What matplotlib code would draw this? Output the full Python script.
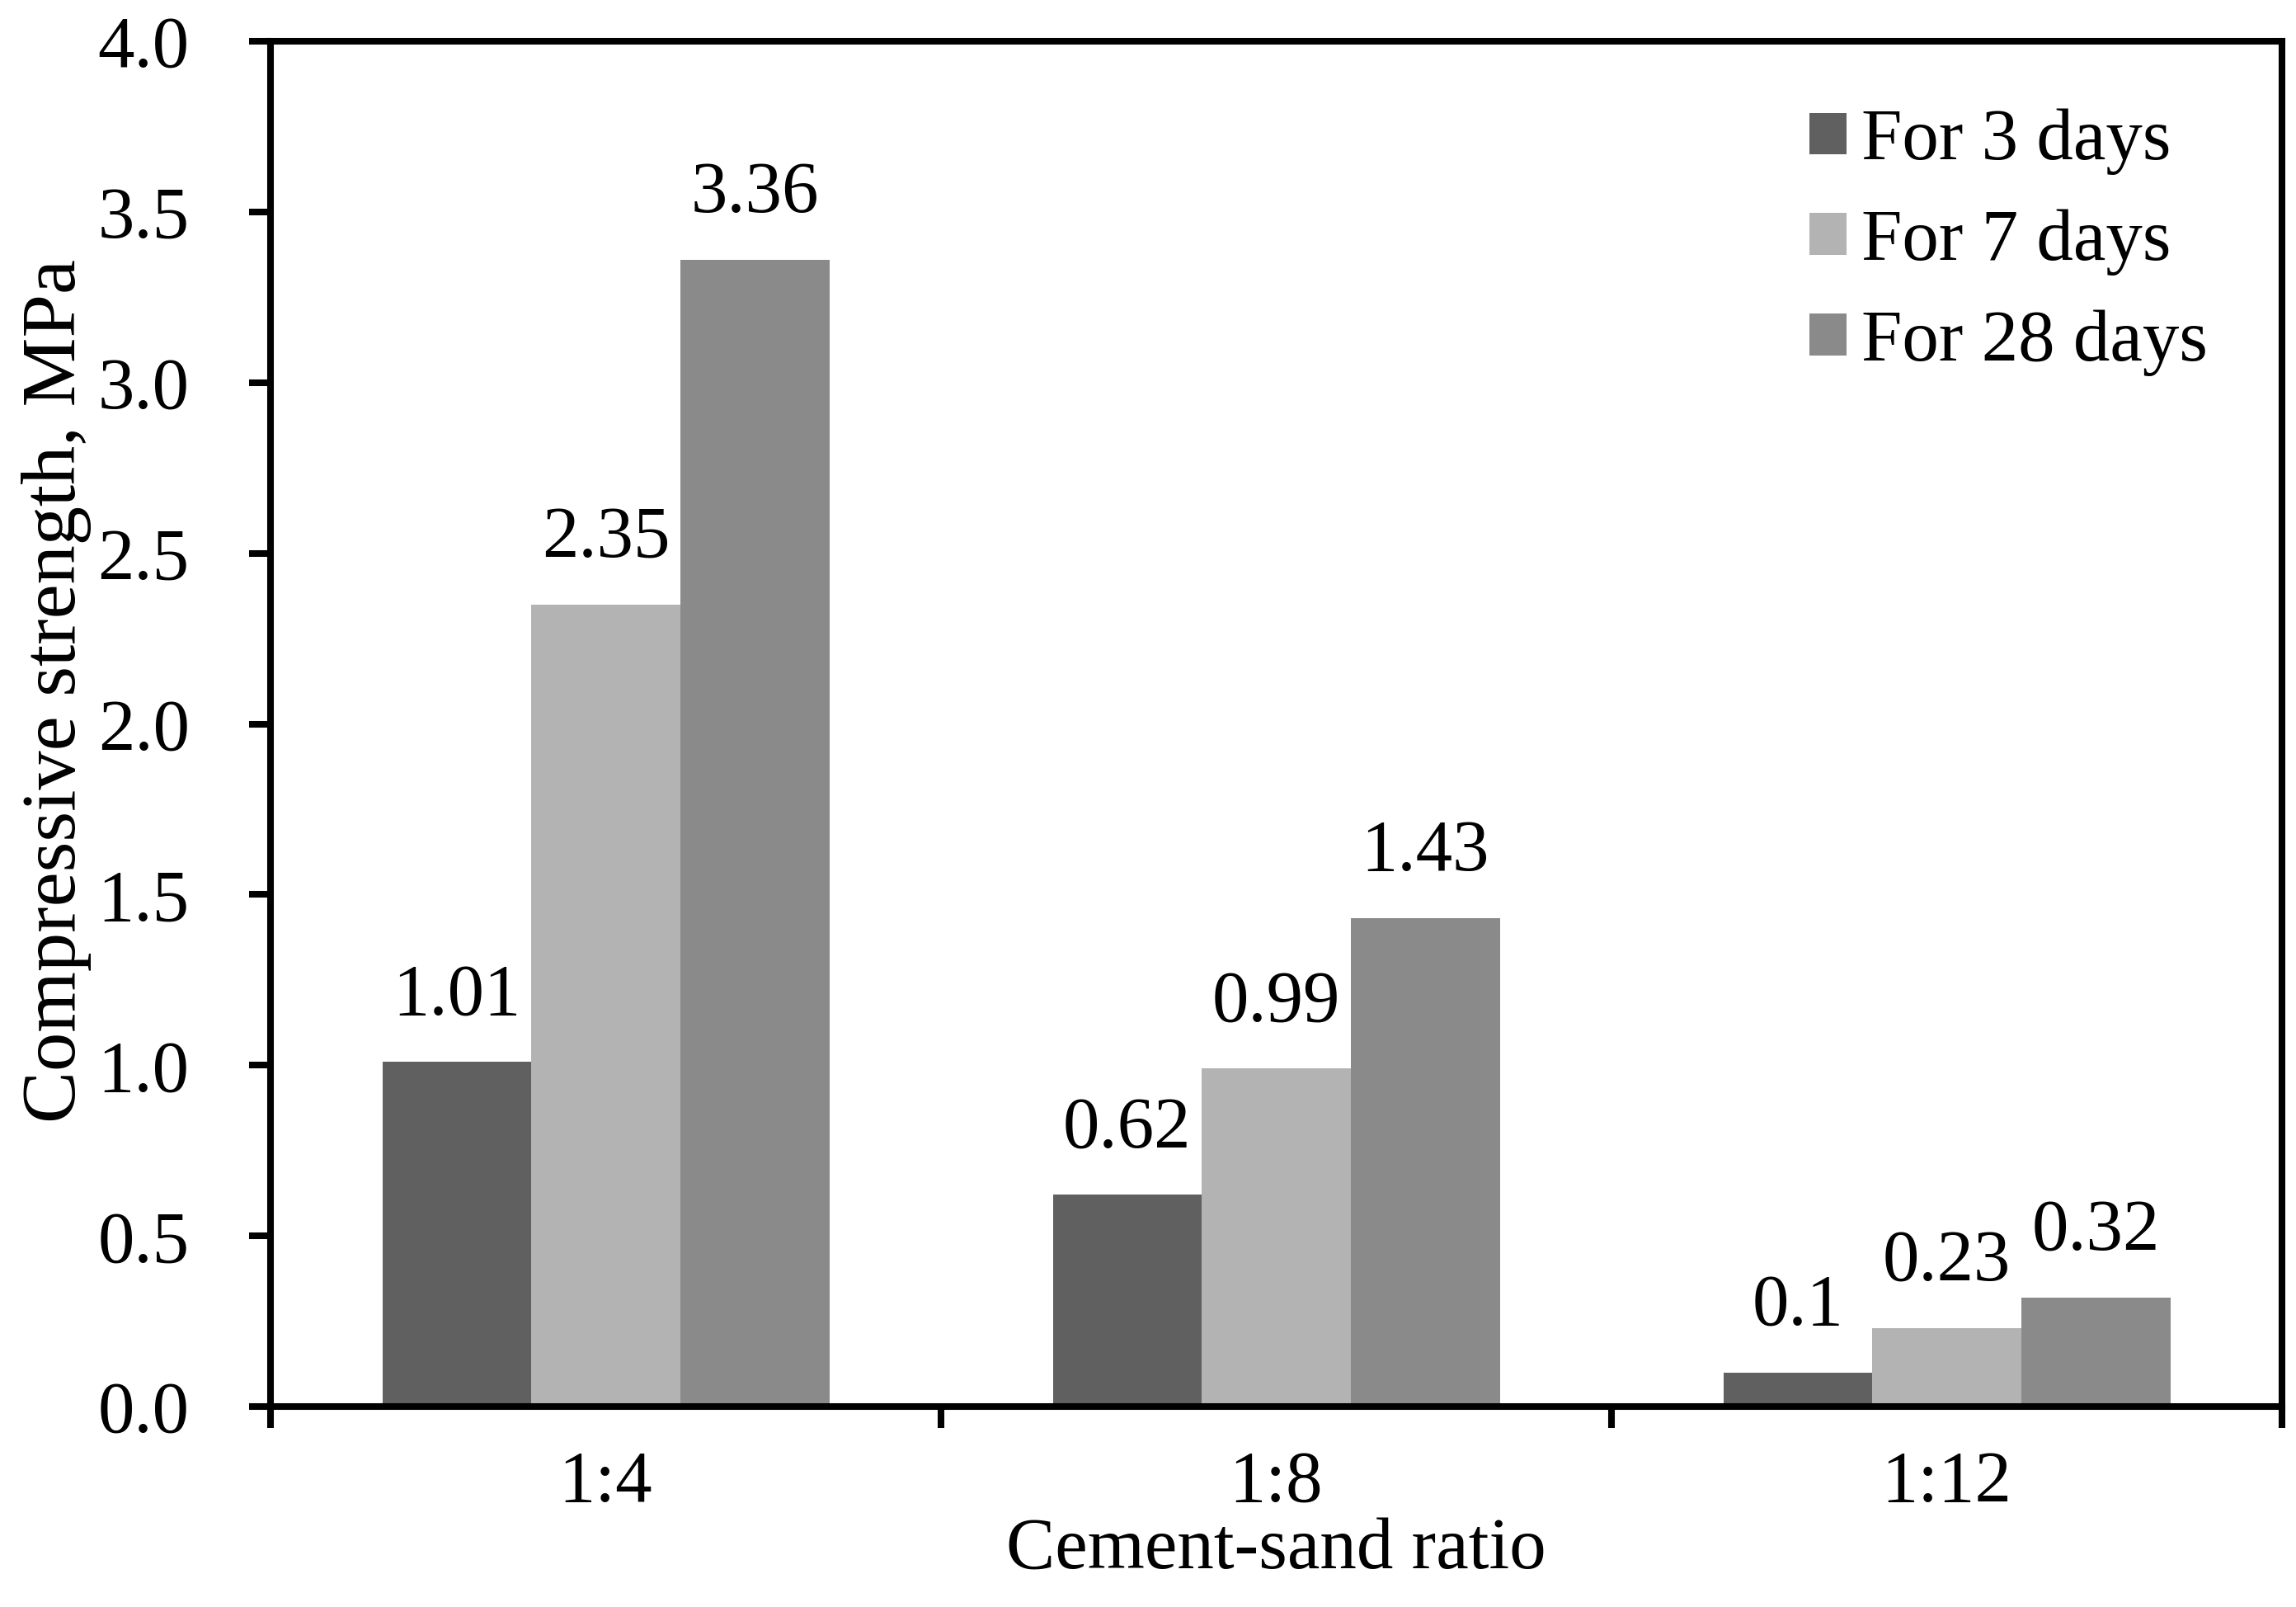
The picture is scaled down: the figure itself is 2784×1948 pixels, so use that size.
import matplotlib
matplotlib.use("Agg")
import matplotlib.pyplot as plt
import numpy as np
from matplotlib.ticker import FixedLocator, NullFormatter, FormatStrFormatter

categories = ["1:4", "1:8", "1:12"]
series_names = ["For 3 days", "For 7 days", "For 28 days"]
days3 = [1.01, 0.62, 0.10]
days7 = [2.35, 0.99, 0.23]
days28 = [3.36, 1.43, 0.32]
label3 = ["1.01", "0.62", "0.1"]
label7 = ["2.35", "0.99", "0.23"]
label28 = ["3.36", "1.43", "0.32"]
colors = ["#606060", "#b3b3b3", "#8a8a8a"]

plt.rcParams['font.family'] = ['Liberation Serif', 'DejaVu Serif']
FS = 32

fig = plt.figure(figsize=(13.92, 9.74), dpi=200)
ax = fig.add_axes([328/2784, 1-1705/1948, (2767-328)/2784, (1705-50)/1948])

x = np.arange(len(categories))
w = 2/9
all_vals = [days3, days7, days28]
all_labels = [label3, label7, label28]
for i, (vals, labs) in enumerate(zip(all_vals, all_labels)):
    bars = ax.bar(x + (i-1)*w, vals, width=w, color=colors[i], label=series_names[i], linewidth=0)
    for b, t in zip(bars, labs):
        ax.annotate(t, (b.get_x()+b.get_width()/2, b.get_height()), xytext=(0, 14),
                    textcoords='offset points', ha='center', va='bottom', fontsize=FS)

ax.set_xlim(-0.5, 2.5)
ax.set_ylim(0, 4.0)
ax.set_yticks(np.arange(0, 4.01, 0.5))
ax.yaxis.set_major_formatter(FormatStrFormatter('%.1f'))
ax.xaxis.set_major_locator(FixedLocator([-0.5, 0.5, 1.5, 2.5]))
ax.xaxis.set_major_formatter(NullFormatter())
ax.xaxis.set_minor_locator(FixedLocator(list(x)))
ax.set_xticklabels(categories, minor=True)

lw = 2.9
for s in ax.spines.values():
    s.set_linewidth(lw)
ax.tick_params(axis='both', which='major', direction='out', length=9.4, width=lw, labelsize=FS)
ax.tick_params(axis='y', which='major', pad=26)
ax.tick_params(axis='x', which='minor', length=0, labelsize=FS, pad=19)

ax.set_xlabel("Cement-sand ratio", fontsize=FS, labelpad=0)
ax.set_ylabel("Compressive strength, MPa", fontsize=34)
ax.yaxis.set_label_coords(-0.089, 0.524)

leg = ax.legend(loc='upper left', bbox_to_anchor=(2150/2784, 1-87/1948), bbox_transform=fig.transFigure,
                frameon=False, fontsize=FS, borderpad=0, handlelength=0.5, handleheight=0.5,
                handletextpad=0.2, labelspacing=0.46)

fig.savefig("out.png", dpi=200)
